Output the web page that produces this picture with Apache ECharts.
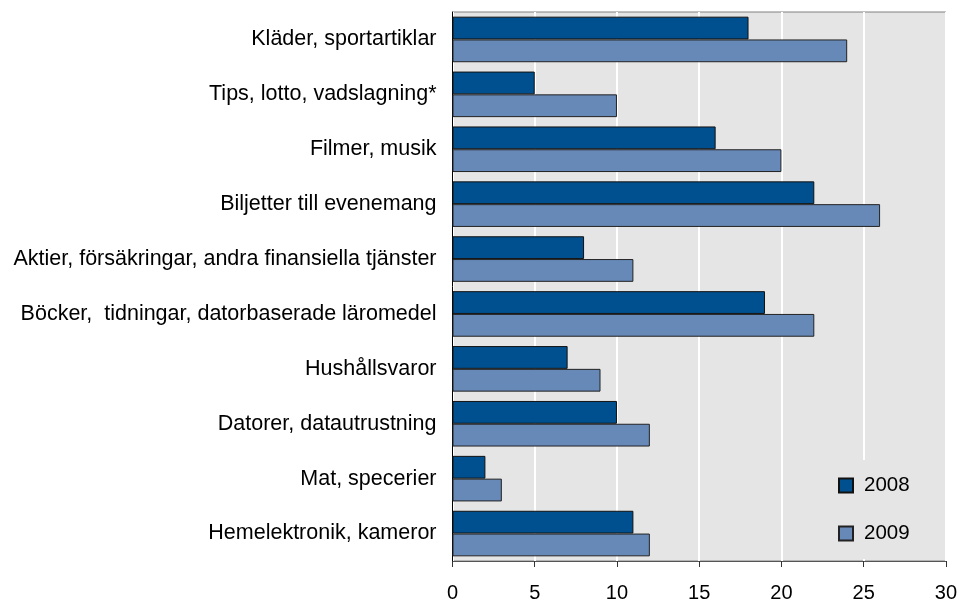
<!DOCTYPE html>
<html>
<head>
<meta charset="utf-8">
<script src="https://cdn.jsdelivr.net/npm/echarts@6/dist/echarts.min.js"></script>
<style>
  html, body { margin: 0; padding: 0; background: #fff; }
  #main { width: 960px; height: 603px; }
</style>
</head>
<body>
<div id="main"></div>
<script>
let categories = [
    'Kläder, sportartiklar',
    'Tips, lotto, vadslagning*',
    'Filmer, musik',
    'Biljetter till evenemang',
    'Aktier, försäkringar, andra finansiella tjänster',
    'Böcker,  tidningar, datorbaserade läromedel',
    'Hushållsvaror',
    'Datorer, datautrustning',
    'Mat, specerier',
    'Hemelektronik, kameror'
];
let values2008 = [18, 5, 16, 22, 8, 19, 7, 10, 2, 11];
let values2009 = [24, 10, 20, 26, 11, 22, 9, 12, 3, 12];
let xTicks = [0, 5, 10, 15, 20, 25, 30];

let myChart = echarts.init(document.getElementById('main'));
let font = 'Liberation Sans, Arial, sans-serif';

let option = {
    animation: false,
    textStyle: {fontFamily: font},
    grid: {
        left: 452.5,
        right: 13.5,
        top: 12,
        bottom: 38,
        show: true,
        backgroundColor: '#E5E5E5',
        borderColor: '#808080',
        borderWidth: 1
    },
    legend: {
        orient: 'vertical',
        left: 826,
        top: 460,
        padding: [15, 14, 15, 12],
        backgroundColor: '#E5E5E5',
        icon: 'rect',
        itemWidth: 14,
        itemHeight: 14,
        itemGap: 27,
        data: ['2008', '2009'],
        textStyle: {fontSize: 20.5, color: '#000', lineHeight: 20, padding: [0, 0, 0, 6], fontFamily: font}
    },
    xAxis: {
        type: 'value',
        min: 0,
        max: 30,
        interval: 5,
        axisLine: {show: true, lineStyle: {color: '#555', width: 1}},
        axisTick: {show: true, length: 6, lineStyle: {color: '#333'}},
        axisLabel: {
            margin: 22,
            fontSize: 20,
            color: '#000',
            fontFamily: font,
            formatter: function (v) { return xTicks.indexOf(v) >= 0 ? String(v) : ''; }
        },
        splitLine: {show: true, lineStyle: {color: '#fff', width: 2}}
    },
    yAxis: {
        type: 'category',
        inverse: true,
        data: categories,
        axisLine: {show: true, lineStyle: {color: '#000', width: 1}},
        axisTick: {show: false},
        axisLabel: {margin: 16, fontSize: 21.5, color: '#000', fontFamily: font}
    },
    series: [{
        name: '2008',
        type: 'bar',
        data: values2008,
        barGap: 0,
        barCategoryGap: '17%',
        itemStyle: {color: '#00508F', borderColor: '#111', borderWidth: 1}
    }, {
        name: '2009',
        type: 'bar',
        data: values2009,
        barGap: 0,
        barCategoryGap: '17%',
        itemStyle: {color: '#6789B8', borderColor: '#222', borderWidth: 1}
    }]
};
myChart.setOption(option);
</script>
</body>
</html>
